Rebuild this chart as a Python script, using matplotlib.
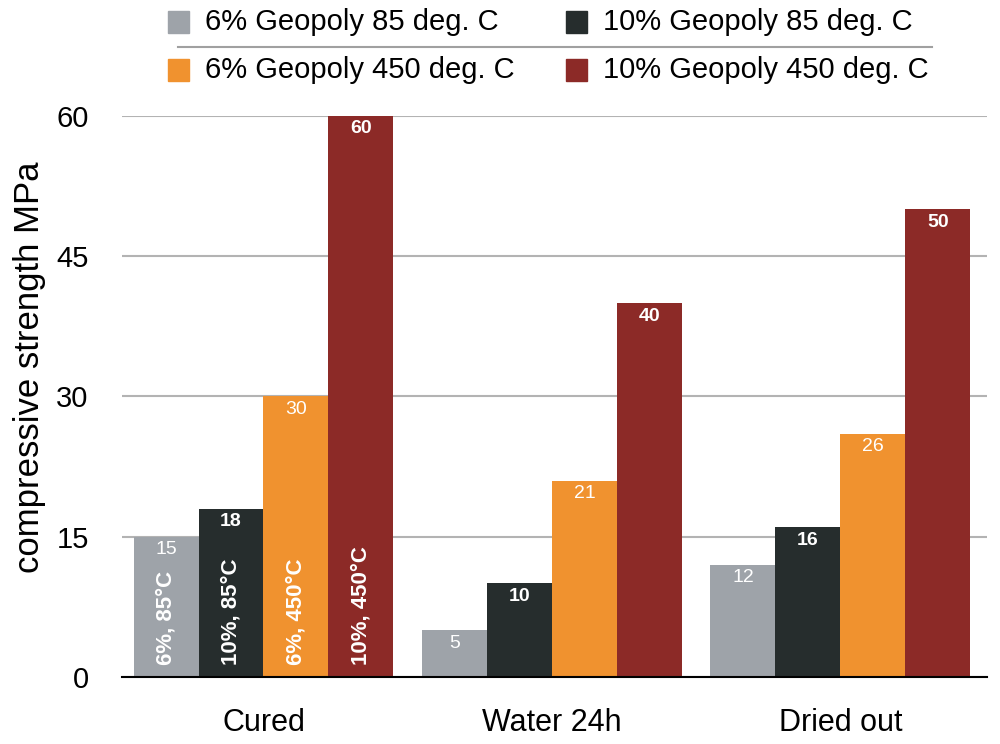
import matplotlib
matplotlib.use('Agg')
import matplotlib.pyplot as plt
from matplotlib.patches import Rectangle
from matplotlib.lines import Line2D
import numpy as np

plt.rcParams['font.family'] = ['Liberation Sans', 'DejaVu Sans']

categories = ['Cured', 'Water 24h', 'Dried out']
series_names = ['6% Geopoly 85 deg. C', '10% Geopoly 85 deg. C',
                '6% Geopoly 450 deg. C', '10% Geopoly 450 deg. C']
values = [
    [15, 5, 12],
    [18, 10, 16],
    [30, 21, 26],
    [60, 40, 50],
]
inner_labels = ['6%, 85°C', '10%, 85°C', '6%, 450°C', '10%, 450°C']
yticks = [0, 15, 30, 45, 60]

colors = ['#9ea3a9', '#262d2d', '#f0922f', '#8c2a27']
weights = ['normal', 'bold', 'normal', 'bold']

mydpi = 100
W, H = 1000.0, 744.0
fig = plt.figure(figsize=(W/mydpi, H/mydpi), dpi=mydpi)
ax = fig.add_axes([0.122, 0.090, 0.865, 0.7545])

x = np.arange(len(categories))
w = 0.2253
for i, vals in enumerate(values):
    xs = x + (i - 1.5) * w
    ax.bar(xs, vals, width=w, color=colors[i], zorder=3)
    for xi, v in zip(xs, vals):
        ax.annotate(str(v), (xi, v), xytext=(0, -9.5), textcoords='offset points',
                    ha='center', va='center', color='white', fontsize=14,
                    fontweight=weights[i], zorder=4)
    # rotated series labels inside the first group
    ax.annotate(inner_labels[i], (xs[0], 0), xytext=(0, 9), textcoords='offset points',
                ha='center', va='bottom', rotation=90, color='white',
                fontsize=16, fontweight='bold', zorder=4)

ax.set_xlim(-0.4905, 2.508)
ax.set_ylim(0, 60)
ax.set_yticks(yticks)
ax.set_xticks(x)
ax.set_xticklabels(categories, fontsize=22)
ax.tick_params(axis='x', length=0, pad=22)
ax.tick_params(axis='y', length=0, pad=24, labelsize=21)
ax.yaxis.grid(True, color='#b3b3b3', lw=1.5, zorder=0)
for s in ['left', 'right', 'top']:
    ax.spines[s].set_visible(False)
ax.spines['bottom'].set_color('black')
ax.spines['bottom'].set_linewidth(1.5)
ax.spines['bottom'].set_zorder(5)

fig.text(30/W, 1 - 367/H, 'compressive strength MPa', fontsize=25,
         rotation=90, ha='center', va='center')

# legend in two rows with a separator line
leg_pos = [(168, 22), (566, 22), (168, 70), (566, 70)]
for (px, py), name, c in zip(leg_pos, series_names, colors):
    fig.patches.append(Rectangle((px/W, 1 - (py + 11)/H), 21/W, 22/H,
                                 transform=fig.transFigure, color=c))
    fig.text((px + 37)/W, 1 - py/H, name, fontsize=21, va='center', ha='left')
fig.lines.append(Line2D([178/W, 932/W], [1 - 47/H, 1 - 47/H],
                        transform=fig.transFigure, color='#a0a0a0', lw=1.5))

plt.savefig('out.png', dpi=mydpi, facecolor='white')
